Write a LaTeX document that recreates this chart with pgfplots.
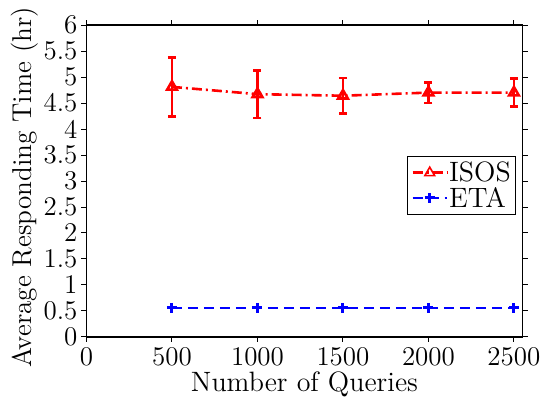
\documentclass[border=0pt]{standalone}
\usepackage{pgfplots}
\pgfplotsset{compat=1.18}
\begin{document}
\begin{tikzpicture}
\begin{axis}[
  scale only axis, width=218pt, height=156pt,
  xmin=0, xmax=2550, ymin=0, ymax=6,
  xtick={0,500,1000,1500,2000,2500},
  xticklabels={0,500,1000,1500,2000,2500},
  ytick={0,0.5,1,1.5,2,2.5,3,3.5,4,4.5,5,5.5,6},
  yticklabels={0,0.5,1,1.5,2,2.5,3,3.5,4,4.5,5,5.5,6},
  tick align=outside, major tick length=2.5pt,
  tick style={black, line width=0.5pt},
  axis line style={line width=0.8pt},
  ticklabel style={font=\fontsize{13.5}{14}\selectfont},
  yticklabel style={xshift=1.5pt},
  xticklabel style={yshift=1pt},
  label style={font=\fontsize{14}{15}\selectfont},
  xlabel={Number of Queries},
  ylabel={Average Responding Time (hr)},
  xlabel style={yshift=4pt},
  ylabel style={yshift=-4pt, xshift=-3pt, font=\fontsize{13.6}{15}\selectfont},
  legend style={at={(0.986,0.486)}, anchor=east, font=\fontsize{14}{15}\selectfont,
    draw=black, line width=0.6pt, inner sep=2pt, row sep=0pt,
    nodes={inner sep=0.5pt, text height=10.4pt, text depth=1.2pt}},
  legend cell align=left,
]
\addplot[red, line width=1.3pt, dash pattern=on 5pt off 2pt on 1pt off 2pt,
  mark=triangle, mark size=2.8pt, mark options={solid, fill=red},
  legend image post style={mark options={solid, fill=white, line width=0.8pt}},
  error bars/.cd, y dir=both, y explicit,
  error bar style={line width=1.4pt, solid},
  error mark options={rotate=90, mark size=2pt, line width=1.4pt, solid}]
coordinates {
(500,4.81) +- (0,0.57)
(1000,4.67) +- (0,0.46)
(1500,4.64) +- (0,0.34)
(2000,4.70) +- (0,0.20)
(2500,4.70) +- (0,0.27)
};
\addlegendentry{ISOS}
\addplot[blue, line width=1.3pt, dash pattern=on 5pt off 3pt,
  mark=+, mark size=2.5pt, mark options={solid, line width=1.5pt}]
coordinates {(500,0.56) (1000,0.56) (1500,0.56) (2000,0.56) (2500,0.56)};
\addlegendentry{ETA}
\end{axis}
\pgfresetboundingbox
\path (-43.25pt,-40pt) rectangle (229.75pt,168.5pt);
\end{tikzpicture}
\end{document}
